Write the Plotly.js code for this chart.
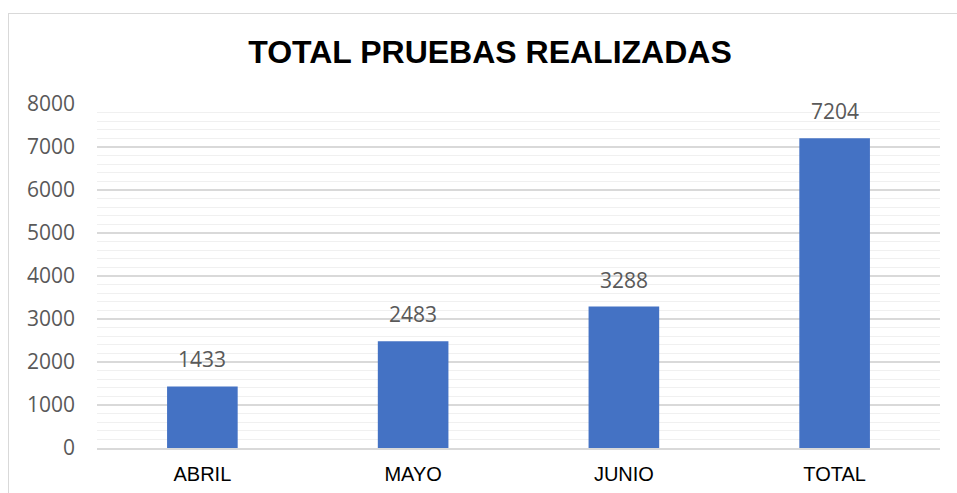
<!DOCTYPE html>
<html>
<head>
<meta charset="utf-8">
<script src="https://cdn.plot.ly/plotly-3.0.1.min.js"></script>
<style>
  html, body { margin: 0; padding: 0; background: #ffffff; }
  #wrap { position: relative; width: 957px; height: 493px; overflow: hidden; }
  #frame { position: absolute; left: 8px; top: 13px; width: 990px; height: 520px;
           border: 1.5px solid #d9d9d9; box-sizing: border-box; }
  #chart { position: absolute; left: 0; top: 0; width: 957px; height: 493px; }
</style>
</head>
<body>
<div id="wrap">
  <div id="frame"></div>
  <div id="chart"></div>
</div>
<script>
const categories = ["ABRIL", "MAYO", "JUNIO", "TOTAL"];
const pruebas = [1433, 2483, 3288, 7204];
const yTickValues = [0, 1000, 2000, 3000, 4000, 5000, 6000, 7000, 8000];
const chartTitle = "TOTAL PRUEBAS REALIZADAS";

const trace = {
  type: "bar",
  x: categories,
  y: pruebas,
  marker: { color: "#4472c4", line: { width: 0 } },
  hoverinfo: "x+y"
};

const annotations = categories.map((c, i) => ({
  x: c, y: pruebas[i], xref: "x", yref: "y",
  text: String(pruebas[i]),
  showarrow: false,
  yanchor: "bottom",
  yshift: 11,
  font: { family: "Open Sans, sans-serif", size: 21, color: "#595959" }
}));

const layout = {
  width: 957, height: 493,
  paper_bgcolor: "rgba(0,0,0,0)",
  plot_bgcolor: "rgba(0,0,0,0)",
  margin: { l: 97, r: 17, t: 104, b: 45 },
  showlegend: false,
  bargap: 0.665,
  title: {
    text: "<b>" + chartTitle + "</b>",
    x: 0.512, xref: "container", xanchor: "center",
    y: 1 - 52 / 493, yref: "container", yanchor: "middle",
    font: { family: "Liberation Sans, Arial, sans-serif", size: 32, color: "#000000" }
  },
  xaxis: {
    type: "category",
    showgrid: false,
    zeroline: false,
    showline: true,
    linecolor: "#d9d9d9",
    linewidth: 1.5,
    ticks: "",
    ticklabelstandoff: 7,
    tickfont: { family: "Liberation Sans, Arial, sans-serif", size: 20, color: "#000000" }
  },
  yaxis: {
    range: [0, 8000],
    tickvals: yTickValues,
    ticktext: yTickValues.map(String),
    showgrid: true,
    gridcolor: "#d9d9d9",
    gridwidth: 1.3,
    minor: { dtick: 200, showgrid: true, gridcolor: "#f0f0f0", gridwidth: 1 },
    zeroline: false,
    showline: false,
    ticks: "",
    ticklabelstandoff: 21,
    tickfont: { family: "Open Sans, sans-serif", size: 21, color: "#595959" }
  },
  annotations: annotations
};

Plotly.newPlot("chart", [trace], layout, { displayModeBar: false, staticPlot: true });
</script>
</body>
</html>
